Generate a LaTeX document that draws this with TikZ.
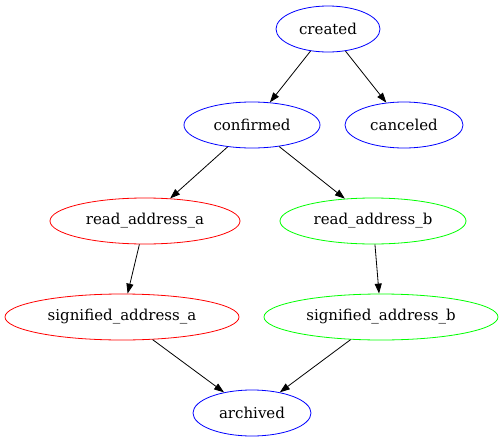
\documentclass[tikz,border=0pt]{standalone}
\usepackage{fontspec}
\setmainfont{DejaVu Serif}
\usetikzlibrary{shapes.geometric,arrows.meta}
\definecolor{gvgreen}{RGB}{0,255,0}
\begin{document}
\begin{tikzpicture}[x=1pt,y=-1pt,
  st/.style={ellipse,draw,line width=0.8pt,inner sep=0pt,minimum height=46pt,font=\fontsize{15}{18}\selectfont},
  edge/.style={draw,line width=0.8pt,-{Triangle[length=10pt,width=7pt]}}]
\useasboundingbox (0,0) rectangle (504,442);
\node[st,draw=blue,minimum width=104pt] (created) at (328,29) {created};
\node[st,draw=blue,minimum width=136pt] (confirmed) at (252,125) {confirmed};
\node[st,draw=blue,minimum width=118pt] (canceled) at (404,125) {canceled};
\node[st,draw=red,minimum width=190pt] (ra) at (145,221) {read\_address\_a};
\node[st,draw=gvgreen,minimum width=186pt] (rb) at (373,221) {read\_address\_b};
\node[st,draw=red,minimum width=234pt] (sa) at (122,317) {signified\_address\_a};
\node[st,draw=gvgreen,minimum width=234pt] (sb) at (381,317) {signified\_address\_b};
\node[st,draw=blue,minimum width=118pt] (archived) at (252,413) {archived};
\draw[edge] (created) -- (confirmed);
\draw[edge] (created) -- (canceled);
\draw[edge] (confirmed) -- (ra);
\draw[edge] (confirmed) -- (rb);
\draw[edge] (ra) -- (sa);
\draw[edge] (rb) -- (sb);
\draw[edge] (sa) -- (archived);
\draw[edge] (sb) -- (archived);
\end{tikzpicture}
\end{document}
